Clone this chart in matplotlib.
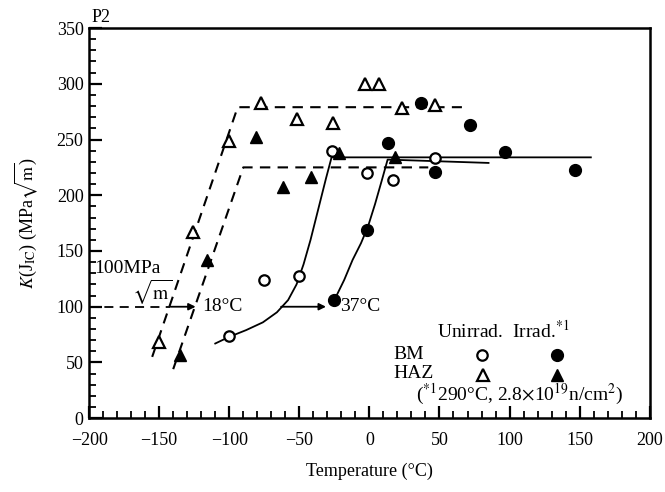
import numpy as np
import matplotlib.pyplot as plt

plt.rcParams['font.family'] = ['Liberation Serif', 'DejaVu Serif']
plt.rcParams['mathtext.fontset'] = 'stix'

# measured points: temperature (C) / K(JIC) (MPa sqrt m)
bm_unirr_t = [-100, -75, -50, -27, -2, 17, 47]
bm_unirr_k = [74, 124, 128, 240, 220, 214, 233]
bm_irr_t = [-25, -2, 13, 37, 47, 72, 97, 147]
bm_irr_k = [106, 169, 247, 283, 221, 263, 239, 223]
haz_unirr_t = [-150, -126, -100, -77, -52, -26, -3, 7, 23, 47]
haz_unirr_k = [68, 167, 249, 283, 268, 265, 300, 300, 278, 281]
haz_irr_t = [-135, -116, -81, -62, -42, -22, 18]
haz_irr_k = [57, 142, 252, 207, 216, 238, 234]

# hand drawn trend lines
haz_unirr_line_t = [-155, -94, 66]
haz_unirr_line_k = [55, 279, 279]
haz_irr_line_t = [-140, -90, 42]
haz_irr_line_k = [44, 225, 225]
bm_unirr_line_t = [-110, -100, -88, -76, -66, -58, -52, -47, -42, -36, -31, -27, 158]
bm_unirr_line_k = [67, 73, 79, 86, 95, 106, 120, 138, 160, 190, 215, 234, 234]
bm_irr_line_t = [-25, -18, -12, -6, -1, 4, 9, 13, 85]
bm_irr_line_k = [106, 124, 142, 157, 172, 192, 214, 232, 229]

fig = plt.figure(figsize=(6.65, 4.92), dpi=100)
ax = fig.add_axes([0.134, 0.150, 0.843, 0.793])

dash = (0, (5, 3.5))
ax.plot(haz_unirr_line_t, haz_unirr_line_k, color='black', lw=1.5, linestyle=dash)
ax.plot(haz_irr_line_t, haz_irr_line_k, color='black', lw=1.5, linestyle=dash)
ax.plot(bm_unirr_line_t, bm_unirr_line_k, color='black', lw=1.3)
ax.plot(bm_irr_line_t, bm_irr_line_k, color='black', lw=1.3)

ax.plot(bm_unirr_t, bm_unirr_k, 'o', ms=7.5, mfc='white', mec='black', mew=1.6)
ax.plot(bm_irr_t, bm_irr_k, 'o', ms=8.5, mfc='black', mec='black')
ax.plot(haz_unirr_t, haz_unirr_k, '^', ms=9, mfc='white', mec='black', mew=1.6)
ax.plot(haz_irr_t, haz_irr_k, '^', ms=9, mfc='black', mec='black')

# 100 MPa sqrt(m) shift arrows
ax.plot([-200, -142], [100, 100], color='black', lw=1.3, linestyle=dash)
ax.annotate('', xy=(-124, 100), xytext=(-142, 100),
            arrowprops=dict(arrowstyle='-|>', color='black', lw=1.3,
                            mutation_scale=10, shrinkA=0, shrinkB=0))
ax.annotate('', xy=(-31, 100), xytext=(-63, 100),
            arrowprops=dict(arrowstyle='-|>', color='black', lw=1.3,
                            mutation_scale=10, shrinkA=0, shrinkB=0))
ax.text(-119, 100, '18°C', fontsize=14, ha='left', va='center')
ax.text(-21, 100, '37°C', fontsize=14, ha='left', va='center')
ax.text(-196, 134, '100MPa', fontsize=14, ha='left', va='center')
ax.text(-141, 113, r'$\sqrt{\rm m}$', fontsize=14, ha='right', va='center')

# legend drawn by hand like the original
ax.text(48, 79, 'Unirrad.  Irrad.$^{*1}$', fontsize=14, ha='left', va='center')
ax.text(17, 57, 'BM', fontsize=14, ha='left', va='center')
ax.text(17, 40, 'HAZ', fontsize=14, ha='left', va='center')
ax.plot([80], [57], 'o', ms=7.5, mfc='white', mec='black', mew=1.6)
ax.plot([134], [57], 'o', ms=8.5, mfc='black', mec='black')
ax.plot([81], [39], '^', ms=9, mfc='white', mec='black', mew=1.6)
ax.plot([134], [39], '^', ms=9, mfc='black', mec='black')
ax.text(33, 21, r'($^{*1}$290°C, 2.8$\times$10$^{19}$n/cm$^{2}$)', fontsize=14,
        ha='left', va='center')

ax.set_xlim(-200, 200)
ax.set_ylim(0, 350)
ax.set_xticks(np.arange(-200, 201, 50))
ax.set_xticks(np.arange(-200, 201, 10), minor=True)
ax.set_yticks(np.arange(0, 351, 50))
ax.set_yticks(np.arange(0, 351, 10), minor=True)
ax.set_xticklabels(['\u2212200', '\u2212150', '\u2212100', '\u221250', '0', '50', '100', '150', '200'])
ax.tick_params(which='major', direction='in', length=9, width=1.6, labelsize=13)
ax.tick_params(axis='x', which='major', pad=10)
ax.tick_params(axis='y', which='major', pad=4)
ax.tick_params(which='minor', direction='in', length=5, width=1.3)
ax.tick_params(top=False, right=False, which='both')
for s in ax.spines.values():
    s.set_linewidth(1.8)

ax.set_xlabel('Temperature (°C)', fontsize=13, labelpad=10)
ax.set_ylabel(r'$K$(J$_{\rm IC}$) (MPa$\sqrt{\rm m}$)', fontsize=13, labelpad=12)
ax.text(0.005, 1.005, 'P2', transform=ax.transAxes, fontsize=13, ha='left', va='bottom')

fig.savefig('out.png', dpi=100)
